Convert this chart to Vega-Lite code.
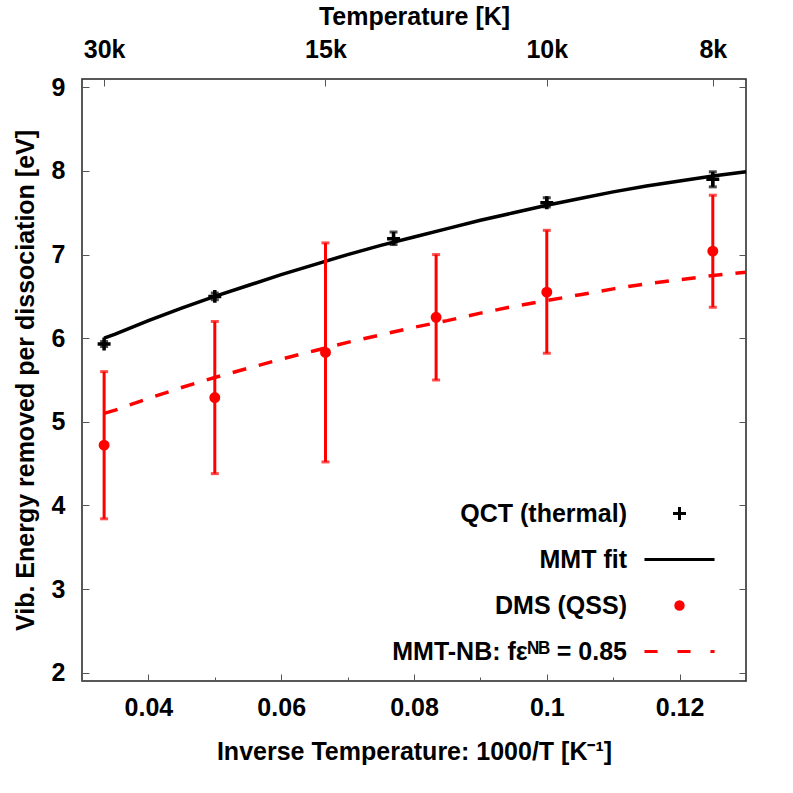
{
  "$schema": "https://vega.github.io/schema/vega-lite/v6.json",
  "width": 664,
  "height": 602,
  "autosize": {"type": "none"},
  "padding": {"left": 82, "top": 79, "right": 47, "bottom": 112},
  "background": "white",
  "config": {
    "view": {"stroke": "#222222", "strokeWidth": 1.5},
    "font": "Liberation Sans",
    "axis": {
      "grid": false,
      "domain": false,
      "tickColor": "#555555",
      "tickWidth": 1,
      "labelFont": "Liberation Sans",
      "labelFontSize": 25,
      "labelFontWeight": "bold",
      "labelColor": "#000000",
      "titleFont": "Liberation Sans",
      "titleFontSize": 25,
      "titleFontWeight": "bold",
      "titleColor": "#000000"
    },
    "legend": {
      "labelFont": "Liberation Sans",
      "labelFontSize": 25,
      "labelFontWeight": "bold",
      "labelColor": "#000000",
      "labelLimit": 500
    }
  },
  "datasets": {
    "fit": [
      {"x": 0.03333, "mmt": 6.00, "nb": 5.10},
      {"x": 0.035, "mmt": 6.05, "nb": 5.14},
      {"x": 0.04, "mmt": 6.21, "nb": 5.28},
      {"x": 0.045, "mmt": 6.36, "nb": 5.41},
      {"x": 0.05, "mmt": 6.50, "nb": 5.53},
      {"x": 0.055, "mmt": 6.63, "nb": 5.64},
      {"x": 0.06, "mmt": 6.76, "nb": 5.75},
      {"x": 0.065, "mmt": 6.88, "nb": 5.85},
      {"x": 0.07, "mmt": 7.00, "nb": 5.95},
      {"x": 0.075, "mmt": 7.11, "nb": 6.04},
      {"x": 0.08, "mmt": 7.21, "nb": 6.13},
      {"x": 0.085, "mmt": 7.31, "nb": 6.21},
      {"x": 0.09, "mmt": 7.41, "nb": 6.30},
      {"x": 0.095, "mmt": 7.50, "nb": 6.38},
      {"x": 0.1, "mmt": 7.59, "nb": 6.45},
      {"x": 0.105, "mmt": 7.67, "nb": 6.52},
      {"x": 0.11, "mmt": 7.75, "nb": 6.59},
      {"x": 0.115, "mmt": 7.82, "nb": 6.65},
      {"x": 0.12, "mmt": 7.88, "nb": 6.70},
      {"x": 0.125, "mmt": 7.94, "nb": 6.75},
      {"x": 0.13, "mmt": 7.99, "nb": 6.79}
    ],
    "qct": [
      {"x": 0.03333, "y": 5.93, "lo": 5.90, "hi": 5.96, "series": "QCT (thermal)"},
      {"x": 0.05, "y": 6.50, "lo": 6.46, "hi": 6.54, "series": "QCT (thermal)"},
      {"x": 0.07692, "y": 7.19, "lo": 7.12, "hi": 7.27, "series": "QCT (thermal)"},
      {"x": 0.1, "y": 7.62, "lo": 7.57, "hi": 7.68, "series": "QCT (thermal)"},
      {"x": 0.125, "y": 7.90, "lo": 7.81, "hi": 7.99, "series": "QCT (thermal)"}
    ],
    "dms": [
      {"x": 0.03333, "y": 4.72, "lo": 3.84, "hi": 5.60, "series": "DMS (QSS)"},
      {"x": 0.05, "y": 5.29, "lo": 4.38, "hi": 6.20, "series": "DMS (QSS)"},
      {"x": 0.06667, "y": 5.83, "lo": 4.52, "hi": 7.14, "series": "DMS (QSS)"},
      {"x": 0.08333, "y": 6.25, "lo": 5.50, "hi": 7.00, "series": "DMS (QSS)"},
      {"x": 0.1, "y": 6.55, "lo": 5.82, "hi": 7.29, "series": "DMS (QSS)"},
      {"x": 0.125, "y": 7.04, "lo": 6.37, "hi": 7.71, "series": "DMS (QSS)"}
    ]
  },
  "resolve": {"axis": {"x": "independent", "y": "independent"}},
  "layer": [
    {
      "data": {"name": "fit"},
      "mark": {"type": "line", "color": "#000000", "strokeWidth": 3.5},
      "encoding": {
        "x": {"field": "x", "type": "quantitative",
          "scale": {"domain": [0.03, 0.13], "nice": false, "zero": false},
          "axis": {"orient": "bottom", "values": [0.04, 0.06, 0.08, 0.1, 0.12], "format": "~g",
            "tickSize": -7, "labelPadding": 21, "title": "Inverse Temperature: 1000/T  [K⁻¹]", "titlePadding": 19}},
        "y": {"field": "mmt", "type": "quantitative",
          "scale": {"domain": [1.9, 9.1], "nice": false, "zero": false},
          "axis": {"orient": "left", "values": [2, 3, 4, 5, 6, 7, 8, 9], "format": "d",
            "tickSize": -7, "labelPadding": 24, "title": "Vib. Energy removed per dissociation [eV]", "titlePadding": 13}}
      }
    },
    {
      "data": {"name": "fit"},
      "mark": {"type": "line", "color": "#ff0000", "strokeWidth": 3.5, "strokeDash": [14, 13]},
      "encoding": {
        "x": {"field": "x", "type": "quantitative",
          "scale": {"domain": [0.03, 0.13], "nice": false, "zero": false},
          "axis": {"orient": "top", "values": [0.033333, 0.066667, 0.1, 0.125],
            "labelExpr": "format(1 / datum.value, '.0f') + 'k'",
            "tickSize": -7, "labelPadding": 24, "title": "Temperature [K]", "titlePadding": 8}},
        "y": {"field": "nb", "type": "quantitative",
          "scale": {"domain": [1.9, 9.1], "nice": false, "zero": false},
          "axis": {"orient": "right", "values": [2, 3, 4, 5, 6, 7, 8, 9], "labels": false,
            "tickSize": -7, "title": null}}
      }
    },
    {
      "data": {"name": "qct"},
      "mark": {"type": "rule", "color": "#000000", "strokeWidth": 3},
      "encoding": {
        "x": {"field": "x", "type": "quantitative",
          "scale": {"domain": [0.03, 0.13], "nice": false, "zero": false},
          "axis": {"orient": "bottom", "values": [0.03, 0.05, 0.07, 0.09, 0.11, 0.13], "labels": false,
            "tickSize": -4, "title": null}},
        "y": {"field": "lo", "type": "quantitative", "scale": {"domain": [1.9, 9.1], "nice": false, "zero": false}, "axis": null},
        "y2": {"field": "hi"}
      }
    },
    {
      "data": {"name": "qct"},
      "mark": {"type": "tick", "orient": "horizontal", "color": "#000000", "size": 8, "thickness": 3},
      "encoding": {
        "x": {"field": "x", "type": "quantitative", "scale": {"domain": [0.03, 0.13], "nice": false, "zero": false}, "axis": null},
        "y": {"field": "lo", "type": "quantitative", "scale": {"domain": [1.9, 9.1], "nice": false, "zero": false}, "axis": null}
      }
    },
    {
      "data": {"name": "qct"},
      "mark": {"type": "tick", "orient": "horizontal", "color": "#000000", "size": 8, "thickness": 3},
      "encoding": {
        "x": {"field": "x", "type": "quantitative", "scale": {"domain": [0.03, 0.13], "nice": false, "zero": false}, "axis": null},
        "y": {"field": "hi", "type": "quantitative", "scale": {"domain": [1.9, 9.1], "nice": false, "zero": false}, "axis": null}
      }
    },
    {
      "data": {"name": "dms"},
      "mark": {"type": "rule", "color": "#ff0000", "strokeWidth": 3},
      "encoding": {
        "x": {"field": "x", "type": "quantitative", "scale": {"domain": [0.03, 0.13], "nice": false, "zero": false}, "axis": null},
        "y": {"field": "lo", "type": "quantitative", "scale": {"domain": [1.9, 9.1], "nice": false, "zero": false}, "axis": null},
        "y2": {"field": "hi"}
      }
    },
    {
      "data": {"name": "dms"},
      "mark": {"type": "tick", "orient": "horizontal", "color": "#ff0000", "size": 8, "thickness": 3},
      "encoding": {
        "x": {"field": "x", "type": "quantitative", "scale": {"domain": [0.03, 0.13], "nice": false, "zero": false}, "axis": null},
        "y": {"field": "lo", "type": "quantitative", "scale": {"domain": [1.9, 9.1], "nice": false, "zero": false}, "axis": null}
      }
    },
    {
      "data": {"name": "dms"},
      "mark": {"type": "tick", "orient": "horizontal", "color": "#ff0000", "size": 8, "thickness": 3},
      "encoding": {
        "x": {"field": "x", "type": "quantitative", "scale": {"domain": [0.03, 0.13], "nice": false, "zero": false}, "axis": null},
        "y": {"field": "hi", "type": "quantitative", "scale": {"domain": [1.9, 9.1], "nice": false, "zero": false}, "axis": null}
      }
    },
    {
      "data": {"name": "qct"},
      "mark": {"type": "point", "filled": false, "strokeWidth": 3.5, "size": 576, "opacity": 1},
      "encoding": {
        "x": {"field": "x", "type": "quantitative", "scale": {"domain": [0.03, 0.13], "nice": false, "zero": false}, "axis": null},
        "y": {"field": "y", "type": "quantitative", "scale": {"domain": [1.9, 9.1], "nice": false, "zero": false}, "axis": null},
        "color": {"field": "series", "type": "nominal",
          "scale": {
            "domain": ["QCT (thermal)", "MMT fit", "DMS (QSS)", "MMT-NB: fεᴺᴮ = 0.85"],
            "range": ["#000000", "#000000", "#ff0000", "#ff0000"]
          },
          "legend": {
            "orient": "none",
            "legendX": 584,
            "legendY": 421,
            "title": null,
            "padding": 0,
            "symbolSize": 576,
            "symbolStrokeWidth": 3,
            "symbolOpacity": 1,
            "labelAlign": "right",
            "labelOffset": -66,
            "rowPadding": 19,
            "labelLimit": 500
          }
        },
        "shape": {"field": "series", "type": "nominal",
          "scale": {
            "domain": ["QCT (thermal)", "MMT fit", "DMS (QSS)", "MMT-NB: fεᴺᴮ = 0.85"],
            "range": [
              "M-0.54,0H0.54M0,-0.54V0.54",
              "M-2.92,0H2.92",
              "M0.31,0A0.31,0.31,0,1,1,-0.31,0A0.31,0.31,0,1,1,0.31,0ZM0.12,0A0.12,0.12,0,1,1,-0.12,0A0.12,0.12,0,1,1,0.12,0Z",
              "M-2.92,0H-1.83M-0.17,0H0.92M2.58,0H2.92"
            ]
          },
          "legend": {
            "orient": "none",
            "legendX": 584,
            "legendY": 421,
            "title": null,
            "padding": 0,
            "symbolSize": 576,
            "symbolStrokeWidth": 3,
            "symbolOpacity": 1,
            "labelAlign": "right",
            "labelOffset": -66,
            "rowPadding": 19,
            "labelLimit": 500
          }
        }
      }
    },
    {
      "data": {"name": "dms"},
      "mark": {"type": "point", "filled": true, "stroke": "#ff0000", "strokeWidth": 3.5, "size": 576, "opacity": 1},
      "encoding": {
        "x": {"field": "x", "type": "quantitative", "scale": {"domain": [0.03, 0.13], "nice": false, "zero": false}, "axis": null},
        "y": {"field": "y", "type": "quantitative", "scale": {"domain": [1.9, 9.1], "nice": false, "zero": false}, "axis": null},
        "color": {"field": "series", "type": "nominal", "legend": null},
        "shape": {"field": "series", "type": "nominal", "legend": null}
      }
    }
  ]
}
